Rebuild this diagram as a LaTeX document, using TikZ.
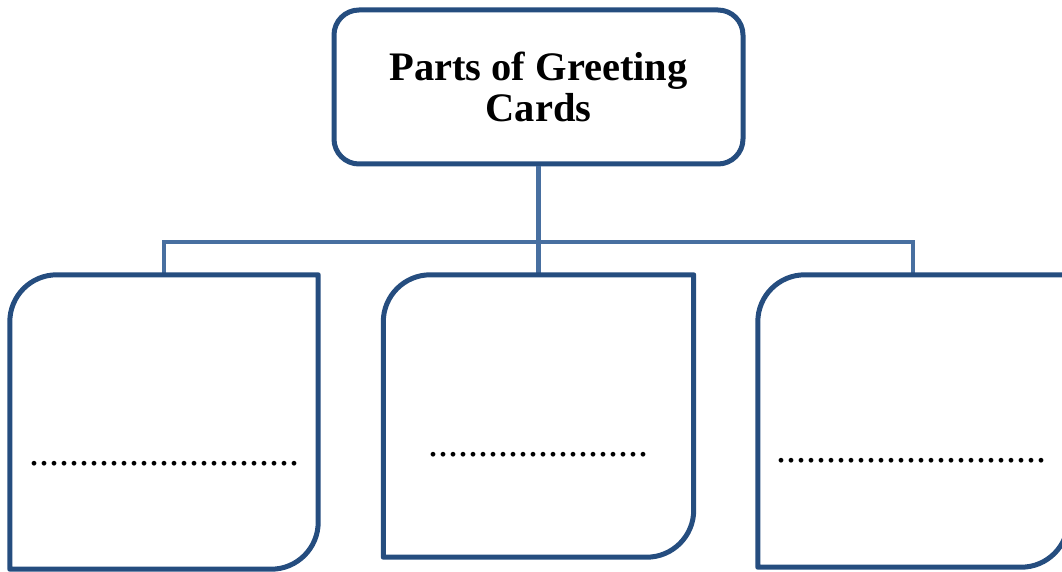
\documentclass[tikz,border=0pt]{standalone}
\usepackage{fontspec}
\setmainfont{Liberation Serif}
\definecolor{boxblue}{RGB}{37,77,127}
\definecolor{connblue}{RGB}{72,111,160}
\begin{document}
\begin{tikzpicture}[x=1pt,y=1pt,
  cardbox/.style={draw=none,inner sep=0pt,rectangle},
  boxline/.style={draw=boxblue,line width=5pt,line join=round},
  conn/.style={draw=connblue,line width=4.5pt},
  dotline/.style={inner sep=0pt,font=\fontsize{40}{40}\selectfont,anchor=base},
]
\clip (0,0) rectangle (1062,-572);
\useasboundingbox (0,0) rectangle (1062,-572);
% title box
\node[boxline,rounded corners=25pt,minimum width=409pt,minimum height=154pt,
  align=center,inner sep=0pt,font=\bfseries\fontsize{40.5}{41}\selectfont]
  (T) at (538.5,-87) {Parts of Greeting\\Cards};
% card boxes (invisible nodes)
\node[cardbox,minimum width=308pt,minimum height=294pt] (L) at (164,-422) {};
\node[cardbox,minimum width=310pt,minimum height=282pt] (M) at (538.5,-416) {};
\node[cardbox,minimum width=310pt,minimum height=292pt] (R) at (913,-421) {};
% connectors
\coordinate (bus) at (538.5,-242);
\draw[conn] (T.south) -- (bus);
\draw[conn] (L.north) |- (bus) -| (R.north);
\draw[conn] (bus) -- (M.north);
% card borders
\foreach \n in {L,M,R}{
  \draw[boxline] (\n.north east) -- ([xshift=47pt]\n.north west)
    arc[start angle=90,end angle=180,radius=47pt]
    -- (\n.south west) -- ([xshift=-47pt]\n.south east)
    arc[start angle=270,end angle=360,radius=47pt] -- cycle;
}
% dotted answer lines
\node[dotline] (dL) at (164,-465) {...........................};
\node[dotline] (dM) at (538.5,-456) {......................};
\node[dotline] (dR) at (911.5,-462) {...........................};
\end{tikzpicture}
\end{document}
